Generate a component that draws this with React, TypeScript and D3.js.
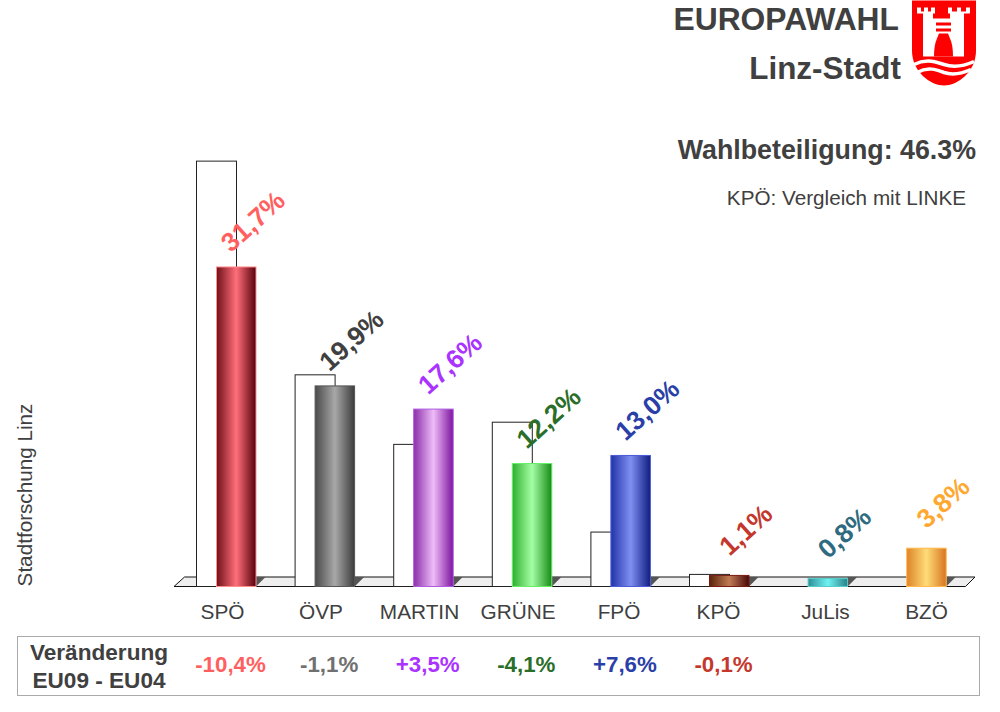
import React, { useRef, useEffect } from 'react';
import * as d3 from 'd3';

const categories = ['SPÖ', 'ÖVP', 'MARTIN', 'GRÜNE', 'FPÖ', 'KPÖ', 'JuLis', 'BZÖ'];
const results = [31.7, 19.9, 17.6, 12.2, 13.0, 1.1, 0.8, 3.8];
const previous = [42.2, 21.0, 14.1, 16.3, 5.4, 1.2];
const changes = [-10.4, -1.1, 3.5, -4.1, 7.6, -0.1];

const labelColors = ['#ff5f5f', '#404040', '#aa33ff', '#2a6e2a', '#2b3fa8', '#c4372c', '#2f6b80', '#ffa830'];
const changeColors = ['#ff5f5f', '#707070', '#aa33ff', '#2a6e2a', '#2b3fa8', '#c4372c'];
const edgeColors = ['#ff8f8f', '#555555', '#b05ae0', '#66ee66', '#4a5ad8', '#7a1a10', '#55cccc', '#ffb84a'];
const gradients = [
  ['#6e1019', '#ff6f7a', '#55000c'],
  ['#4a4a4a', '#a8a8a8', '#3c3c3c'],
  ['#8a2fa8', '#eebcf8', '#7d149f'],
  ['#2fae2f', '#a4ffa4', '#178a17'],
  ['#2233a8', '#7f8ff2', '#101c80'],
  ['#5a2408', '#c07a55', '#4a0808'],
  ['#2f8f96', '#6ff2f2', '#2a8088'],
  ['#dd8428', '#ffdc78', '#d87420'],
];

const BASE = 586.5;
const FLOOR_TOP = 577;

const App: React.FC = () => {
  const svgRef = useRef<SVGSVGElement | null>(null);

  useEffect(() => {
    const svg = d3.select(svgRef.current!);
    svg.selectAll('*').remove();
    const font = '"Liberation Sans", Arial, sans-serif';
    svg.attr('font-family', font);

    const y = d3.scaleLinear().domain([0, 50]).range([BASE, 82.5]);
    const x = d3.scaleBand<string>().domain(categories).range([196.5, 196.5 + 98.6 * 8]);
    const barW = 39.5;
    const newX = (c: string) => x(c)! + 20;
    const num = (v: number) => `${v < 0 ? '-' : ''}${d3.format('.1f')(Math.abs(v)).replace('.', ',')}`;

    const defs = svg.append('defs');
    categories.forEach((c, i) => {
      const g = defs.append('linearGradient').attr('id', `bar${i}`);
      gradients[i].forEach((col, k) => {
        g.append('stop').attr('offset', `${k * 50}%`).attr('stop-color', col);
      });
    });

    // floor
    svg.append('path')
      .attr('d', `M174,${BASE}L184.5,${FLOOR_TOP}H975L965.5,${BASE}Z`)
      .attr('fill', '#eeeeee')
      .attr('stroke', '#111')
      .attr('stroke-width', 1);

    // previous election outlines
    svg.append('g').selectAll('rect')
      .data(previous)
      .enter()
      .append('rect')
      .attr('x', (_, i) => x(categories[i])!)
      .attr('y', (d) => y(d))
      .attr('width', 40)
      .attr('height', (d) => BASE - y(d))
      .attr('fill', '#fff')
      .attr('stroke', '#222')
      .attr('stroke-width', 1);

    // little shadow right of each bar
    svg.append('g').selectAll('path')
      .data(categories)
      .enter()
      .append('path')
      .attr('d', (c) => {
        const r = newX(c) + barW;
        return `M${r},${BASE}V${FLOOR_TOP}H${r + 9.5}Z`;
      })
      .attr('fill', '#555');

    svg.append('g').selectAll('rect')
      .data(results)
      .enter()
      .append('rect')
      .attr('x', (_, i) => newX(categories[i]))
      .attr('y', (d) => y(d))
      .attr('width', barW)
      .attr('height', (d) => BASE - y(d))
      .attr('fill', (_, i) => `url(#bar${i})`)
      .attr('stroke', (_, i) => edgeColors[i])
      .attr('stroke-width', 1);

    svg.append('g').selectAll('text')
      .data(results)
      .enter()
      .append('text')
      .attr('transform', (d, i) => `translate(${newX(categories[i]) + barW / 2 + 18},${y(d) - 44}) rotate(-42)`)
      .attr('text-anchor', 'middle')
      .attr('dominant-baseline', 'middle')
      .attr('font-size', 26.5)
      .attr('font-weight', 'bold')
      .attr('fill', (_, i) => labelColors[i])
      .text((d) => `${num(d)}%`);

    // category labels sit on their own spacing, not under the bars
    const labelPos = d3.scaleLinear().domain([0, 3, 4, 5, 6, 7]).range([222, 517.5, 618.5, 718, 825, 926]);
    const labelScale = d3.scaleOrdinal<string, number>()
      .domain(categories)
      .range(categories.map((_, i) => labelPos(i)));
    const axis = svg.append('g')
      .attr('transform', 'translate(0,604)')
      .call(d3.axisBottom(labelScale as any).tickSize(0).tickPadding(0));
    axis.select('.domain').remove();
    axis.selectAll('text')
      .attr('font-family', font)
      .attr('font-size', 20.8)
      .attr('fill', '#404040')
      .attr('dy', '0.71em');

    // change table
    svg.append('rect')
      .attr('x', 17.5).attr('y', 636.5).attr('width', 962).attr('height', 59)
      .attr('fill', '#fff').attr('stroke', '#aaa').attr('stroke-width', 1);
    [['Veränderung', 660], ['EU09 - EU04', 688]].forEach(([t, py]) => {
      svg.append('text')
        .attr('x', 99).attr('y', py as number)
        .attr('text-anchor', 'middle').attr('font-size', 22.6).attr('font-weight', 'bold')
        .attr('fill', '#404040').text(t as string);
    });
    const changeX = d3.scaleLinear().domain([0, 5]).range([230.5, 723.5]);
    svg.append('g').selectAll('text')
      .data(changes)
      .enter()
      .append('text')
      .attr('x', (_, i) => changeX(i))
      .attr('y', 672)
      .attr('text-anchor', 'middle')
      .attr('font-size', 22.3)
      .attr('font-weight', 'bold')
      .attr('fill', (_, i) => changeColors[i])
      .text((d) => `${d > 0 ? '+' : ''}${num(d)}%`);

    const label = (t: string, px: number, py: number, size: number, bold: boolean) => svg.append('text')
      .attr('x', px).attr('y', py)
      .attr('text-anchor', 'end')
      .attr('font-size', size)
      .attr('font-weight', bold ? 'bold' : 'normal')
      .attr('fill', '#404040')
      .text(t);
    label('EUROPAWAHL', 899, 30, 31.8, true);
    label('Linz-Stadt', 901, 79, 31.4, true);
    label('Wahlbeteiligung: 46.3%', 976, 159, 26.8, true);
    label('KPÖ: Vergleich mit LINKE', 966, 205, 20.7, false);

    svg.append('text')
      .attr('transform', 'translate(32,495) rotate(-90)')
      .attr('text-anchor', 'middle')
      .attr('font-size', 20.7)
      .attr('fill', '#404040')
      .text('Stadtforschung Linz');

    // Linz coat of arms
    const arms = svg.append('g').attr('transform', 'translate(912,0.5)');
    arms.append('path')
      .attr('d', 'M0,0H64V50C64,72 45,85 32,85C19,85 0,72 0,50Z')
      .attr('fill', '#fe0000');
    arms.append('path')
      .attr('fill', '#fff')
      .attr('d', 'M5,7H9V11H12V7H16V11H19V7H23V13H21V18H38V13H36V7H40V11H45V7H49V11H54V7H58V13H52V56H11V13H5Z');
    arms.append('path')
      .attr('fill', '#fe0000')
      .attr('d', 'M24,22H39V25H24ZM24,28H39V31H24ZM27,33H36L38,38C40,42 41,48 41,56H22C22,48 23,42 25,38Z');
    arms.append('path')
      .attr('fill', 'none')
      .attr('stroke', '#fff')
      .attr('stroke-width', 3.5)
      .attr('d', 'M2,64C14,58 22,61 32,64C41,67 51,66 62,61M5,72C16,66 24,69 32,72C41,75 50,73 59,69');
  }, []);

  return <svg ref={svgRef} width={1000} height={712} style={{ position: 'absolute', left: 0, top: 0 }}></svg>;
};

export default App;
